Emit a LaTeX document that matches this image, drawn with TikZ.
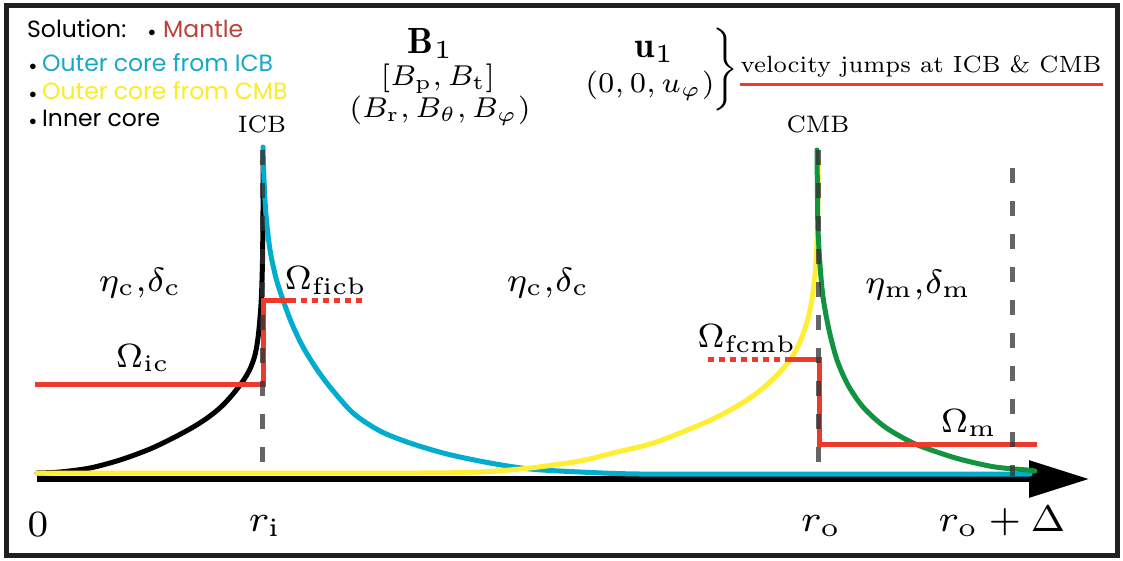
\documentclass[tikz,border=0pt]{standalone}
\usepackage{fontspec}
\newfontfamily\legfont{Poppins}
\usetikzlibrary{arrows.meta}
\definecolor{cblue}{RGB}{0,173,208}
\definecolor{cyel}{RGB}{255,238,52}
\definecolor{cgreen}{RGB}{16,148,64}
\definecolor{cred}{RGB}{237,58,45}
\definecolor{cmantle}{RGB}{188,66,56}
\definecolor{cleg}{RGB}{22,168,200}
\definecolor{clegy}{RGB}{250,236,40}
\definecolor{cgray}{RGB}{50,50,50}
\tikzset{
  lab/.style={inner sep=0pt, font=\fontsize{7}{8.4}\selectfont},
  big/.style={lab, scale=4.8},
  mid/.style={lab, scale=4.1},
  small/.style={lab, scale=3.4},
  axlab/.style={lab, scale=5.3},
  leg/.style={inner sep=0pt, anchor=base west, font=\legfont\fontsize{23.5}{27}\selectfont},
  bul/.style={inner sep=0pt, anchor=base, font=\fontsize{15}{18}\selectfont},
  curve/.style={line width=5pt, line cap=round},
  redline/.style={line width=5pt, cred},
  reddot/.style={line width=5pt, cred, dash pattern=on 6pt off 5pt},
  guide/.style={line width=5pt, cgray, opacity=0.75, dash pattern=on 15pt off 18pt},
}
\begin{document}
\begin{tikzpicture}[x=1pt,y=-1pt]
\useasboundingbox (0,0) rectangle (1123,560);
\fill[white] (0,0) rectangle (1123,560);
\draw[line width=5pt, black!88] (6,5.5) rectangle (1117,555);

% legend
\node[leg] (sol) at (27,37) {Solution:};
\node[bul] (b0) at (152,36) {$\bullet$};
\node[leg, text=cmantle] (mant) at (163,37) {Mantle};
\node[bul] (b1) at (33,70) {$\bullet$};
\node[leg, text=cleg] (oicb) at (42,71) {Outer core from ICB};
\node[bul] (b2) at (33,98) {$\bullet$};
\node[leg, text=clegy] (ocmb) at (42,99) {Outer core from CMB};
\node[bul] (b3) at (33,125) {$\bullet$};
\node[leg] (ic) at (42,126) {Inner core};

% top labels
\node[lab, scale=5.2, anchor=base] (B1) at (431,53) {$\mathbf{B}_1$};
\node[mid, anchor=base] (Bpt) at (438,85) {$[B_\mathrm{p},B_\mathrm{t}]$};
\node[mid, anchor=base] (Brtp) at (440,117) {$(B_\mathrm{r},B_\theta,B_\varphi)$};
\node[lab, scale=5.2, anchor=base] (u1) at (655,57) {$\mathbf{u}_1$};
\node[mid, anchor=base] (u0) at (650,92) {$(0,0,u_\varphi)$};
\node[lab, scale=3.45] (brace) at (723,70) {$\left.\rule[-10.5pt]{0pt}{21pt}\right\}$};
\node[lab, scale=3.36, anchor=base west] (vj) at (740,72) {velocity jumps at ICB \& CMB};
\node[small, anchor=base] (icbl) at (262,132) {ICB};
\node[small, anchor=base] (cmbl) at (818,132) {CMB};

% region labels
\node[big, anchor=base] (ec1) at (140,291) {$\eta_\mathrm{c}{,}\delta_\mathrm{c}$};
\node[big, anchor=base] (ec2) at (548,291) {$\eta_\mathrm{c}{,}\delta_\mathrm{c}$};
\node[big, anchor=base] (em) at (918,293) {$\eta_\mathrm{m}{,}\delta_\mathrm{m}$};
\node[big, anchor=base] (Oic) at (143,367) {$\Omega_\mathrm{ic}$};
\node[big, anchor=base] (Oficb) at (326,289) {$\Omega_\mathrm{ficb}$};
\node[big, anchor=base] (Ofcmb) at (747,347) {$\Omega_\mathrm{fcmb}$};
\node[big, anchor=base] (Om) at (969,432) {$\Omega_\mathrm{m}$};

% axis labels
\node[axlab, anchor=base] (z) at (38,536) {$0$};
\node[axlab, anchor=base] (ri) at (265,531) {$r_\mathrm{i}$};
\node[axlab, anchor=base] (ro) at (821,531) {$r_\mathrm{o}$};
\node[axlab, anchor=base] (rod) at (1002,531) {$r_\mathrm{o}+\Delta$};

% coordinates
\coordinate (axL) at (37,479);
\coordinate (axR) at (1089,479);
\coordinate (iT) at (262,150);
\coordinate (iB) at (262,476);
\coordinate (oT) at (818,150);
\coordinate (oB) at (818,476);
\coordinate (dT) at (1012,168);
\coordinate (dB) at (1012,476);
\coordinate (ic1) at (35,384);
\coordinate (ic2) at (263,384);
\coordinate (ic3) at (263,300);
\coordinate (ic4) at (290,300);
\coordinate (ic5) at (365,300);
\coordinate (cm0) at (708,359);
\coordinate (cm1) at (785,359);
\coordinate (cm2) at (819,359);
\coordinate (cm3) at (819,444);
\coordinate (cm4) at (1037,444);
\coordinate (ulL) at (740,84);
\coordinate (ulR) at (1103,84);

% axis
\draw[line width=6pt, -{Triangle[length=60pt,width=36pt]}] (axL) -- (axR);

% curves
\draw[curve, black] plot[smooth, tension=0.5] coordinates {(37,473) (60,472) (90,468) (120,460) (150,449) (175,437) (195,426) (210,416) (222,406) (233,394) (243,381) (250,369) (255,355) (258,338) (260,318) (261.5,295) (262.5,260) (263,210) (263,160)};
\draw[curve, cblue] plot[smooth, tension=0.5] coordinates {(263,147) (264,180) (266,215) (270,250) (276,278) (283,300) (292,324) (303,347) (316,368) (330,387) (353,413) (380,431) (410,443) (447,454) (490,463) (530,469) (580,472) (640,474) (760,474) (1030,474)};
\draw[curve, cyel] plot[smooth, tension=0.5] coordinates {(37,473) (300,473) (420,473) (480,472) (530,468) (580,461) (613,453) (650,444) (680,433) (715,418) (747,400) (770,382) (790,360) (802,337) (810,310) (815,275) (817,240) (818,200) (818,160)};
\draw[curve, cgreen] plot[smooth, tension=0.5] coordinates {(817,150) (817.5,200) (818,230) (820,265) (823,297) (829,330) (837,360) (848,385) (863,407) (885,427) (913,443) (940,453) (963,460) (995,467) (1027,470) (1035,471)};

% red lines
\draw[redline] (ic1) -- (ic2) -- (ic3) -- (ic4);
\draw[reddot] (ic4) -- (ic5);
\draw[reddot] (cm0) -- (cm1);
\draw[redline] (cm1) -- (cm2) -- (cm3) -- (cm4);
\draw[line width=3pt, cred] (ulL) -- (ulR);

% guides
\draw[guide] (iT) -- (iB);
\draw[guide] (oT) -- (oB);
\draw[guide] (dT) -- (dB);
\end{tikzpicture}
\end{document}
